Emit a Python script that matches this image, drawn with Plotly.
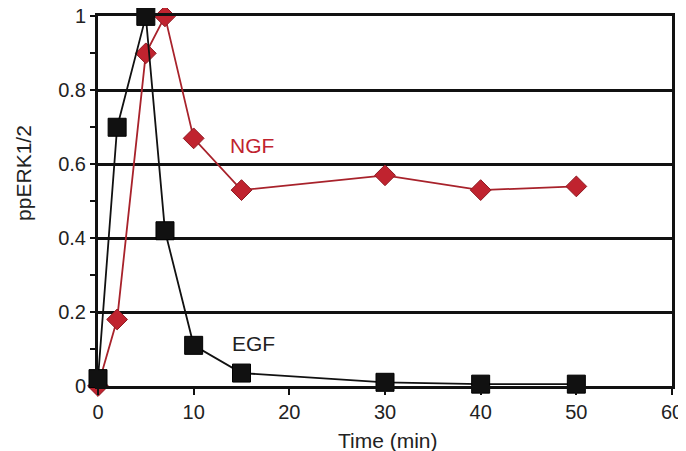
import plotly.graph_objects as go

time_egf = [0, 2, 5, 7, 10, 15, 30, 40, 50]
egf = [0.02, 0.70, 1.00, 0.42, 0.11, 0.035, 0.01, 0.005, 0.005]
time_ngf = [0, 2, 5, 7, 10, 15, 30, 40, 50]
ngf = [0.0, 0.18, 0.90, 1.00, 0.67, 0.53, 0.57, 0.53, 0.54]
x_ticks = [0, 10, 20, 30, 40, 50, 60]
y_ticks = [0, 0.2, 0.4, 0.6, 0.8, 1.0]
y_labels = ["0", "0.2", "0.4", "0.6", "0.8", "1"]

FONT = "Liberation Sans, Arial"
red = "#c0232f"
fig = go.Figure()
fig.add_trace(go.Scatter(
    x=time_ngf, y=ngf, mode="lines+markers", name="NGF",
    line=dict(color="#a8222b", width=1.8),
    marker=dict(symbol="diamond", size=16, color=red, line=dict(color="#8e1a22", width=1)),
    cliponaxis=False))
fig.add_trace(go.Scatter(
    x=time_egf, y=egf, mode="lines+markers", name="EGF",
    line=dict(color="#111111", width=1.8),
    marker=dict(symbol="square", size=18, color="#111111", line=dict(color="#000000", width=1)),
    cliponaxis=False))

fig.add_annotation(x=13.6, y=0.651, text="NGF", showarrow=False, xanchor="left",
                   font=dict(family=FONT, size=21, color=red))
fig.add_annotation(x=13.8, y=0.116, text="EGF", showarrow=False, xanchor="left",
                   font=dict(family=FONT, size=21, color="#222222"))
# axis titles
fig.add_annotation(xref="paper", yref="paper", x=0, y=0.576, xshift=-74, text="ppERK1/2",
                   textangle=-90, showarrow=False, xanchor="center", yanchor="middle",
                   font=dict(family=FONT, size=21, color="#222222"))
fig.add_annotation(xref="x", yref="paper", x=30.3, y=0, yshift=-54, text="Time (min)",
                   showarrow=False, xanchor="center", yanchor="middle",
                   font=dict(family=FONT, size=21, color="#222222"))

fig.update_layout(
    width=678, height=443,
    margin=dict(l=90, r=14, t=8, b=65),
    paper_bgcolor="white", plot_bgcolor="white",
    showlegend=False,
    font=dict(family=FONT, size=20, color="#222222"),
)
fig.update_xaxes(
    range=[0, 60], tickvals=x_ticks, ticks="outside", ticklen=6, tickwidth=2, tickcolor="#111",
    showline=True, linecolor="#111", linewidth=3, mirror=True, showgrid=False, zeroline=False,
    automargin=False, tickfont=dict(size=20), ticklabeloverflow="allow")
fig.update_yaxes(
    range=[0, 1.001], tickvals=y_ticks, ticktext=y_labels, ticks="outside", ticklen=5, tickwidth=2,
    tickcolor="#111", showline=True, linecolor="#111", linewidth=3, mirror=True,
    showgrid=True, gridcolor="#111", gridwidth=2.5, zeroline=False,
    automargin=False, ticklabeloverflow="allow",
    minor=dict(dtick=0.1, ticks="outside", ticklen=5, tickwidth=2, tickcolor="#111", showgrid=False),
    tickfont=dict(size=20))

fig.write_html("out.html")
